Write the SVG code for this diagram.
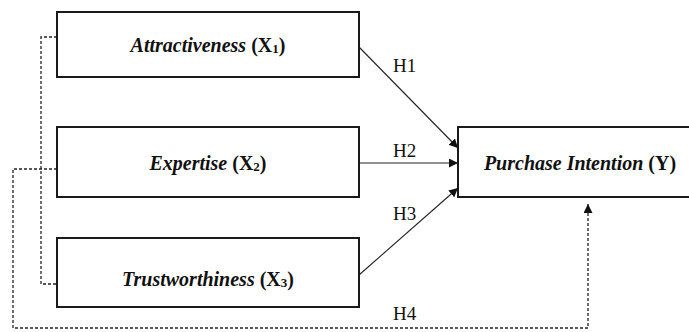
<svg xmlns="http://www.w3.org/2000/svg" width="689" height="332" viewBox="0 0 689 332">
<defs>
<style>
.box{fill:#fff;stroke:#1a1a1a;stroke-width:2}
.lbl{font-family:"Liberation Serif","Times New Roman",serif;font-size:20px;fill:#111;text-anchor:middle}
.it{font-style:italic;font-weight:bold}
.b{font-weight:bold}
.sub{font-size:13px}
.h{font-family:"Liberation Serif","Times New Roman",serif;font-size:19px;fill:#111}
.arr{stroke:#222;stroke-width:1.1;fill:none}
.dash{stroke:#222;stroke-width:1.3;fill:none;stroke-dasharray:3,2}
</style>
<marker id="ah" viewBox="0 0 10 10" refX="10" refY="5" markerWidth="9" markerHeight="9" markerUnits="userSpaceOnUse" orient="auto"><path d="M0,0 L10,5 L0,10 z" fill="#111"/></marker>
</defs>
<g id="connectors">
<path class="dash" d="M57,37 H41 V284 H57"/>
<path class="dash" d="M57,169 H13 V328 H588 V204" marker-end="url(#ah)"/>
<line class="arr" x1="359" y1="47" x2="458" y2="148" marker-end="url(#ah)"/>
<line class="arr" x1="359" y1="163" x2="458" y2="163" marker-end="url(#ah)"/>
<line class="arr" x1="359" y1="275" x2="458" y2="188" marker-end="url(#ah)"/>
<text class="h" x="393" y="72">H1</text>
<text class="h" x="393" y="157">H2</text>
<text class="h" x="393" y="220">H3</text>
<text class="h" x="393" y="320">H4</text>
</g>
<g id="x1">
<rect class="box" x="57" y="12" width="302" height="65"/>
<text class="lbl" x="208" y="52"><tspan class="it">Attractiveness</tspan> <tspan class="b">(X<tspan class="sub" dy="1">1</tspan><tspan dy="-1">)</tspan></tspan></text>
</g>
<g id="x2">
<rect class="box" x="57" y="127" width="302" height="70"/>
<text class="lbl" x="208" y="170"><tspan class="it">Expertise</tspan> <tspan class="b">(X<tspan class="sub" dy="1">2</tspan><tspan dy="-1">)</tspan></tspan></text>
</g>
<g id="x3">
<rect class="box" x="57" y="238" width="302" height="69"/>
<text class="lbl" x="208" y="286"><tspan class="it">Trustworthiness</tspan> <tspan class="b">(X<tspan class="sub" dy="1">3</tspan><tspan dy="-1">)</tspan></tspan></text>
</g>
<g id="y">
<rect class="box" x="458" y="127" width="240" height="70"/>
<text class="lbl" x="580" y="170"><tspan class="it">Purchase Intention</tspan> <tspan class="b">(Y)</tspan></text>
</g>
</svg>
